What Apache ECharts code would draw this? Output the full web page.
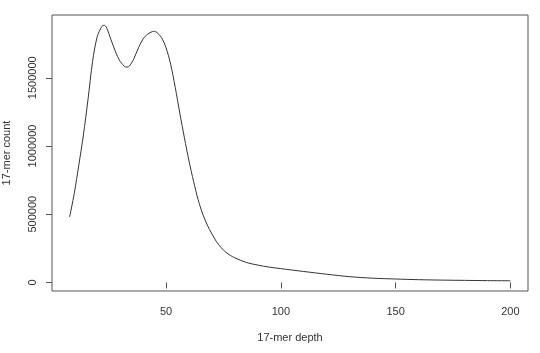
<!DOCTYPE html>
<html>
<head>
<meta charset="utf-8">
<title>17-mer</title>
<script src="https://cdn.jsdelivr.net/npm/echarts@6/dist/echarts.min.js"></script>
<style>
html,body{margin:0;padding:0;background:#fff;}
#main{width:540px;height:353px;}
</style>
</head>
<body>
<div id="main"></div>
<script type="text/javascript">
// depth values
var depth = [8, 10, 12, 14, 16, 18, 20, 22, 23, 24, 26, 28, 30, 32, 33, 34, 36, 38, 40, 42, 44, 45, 46, 48, 50,
	52, 54, 56, 58, 60, 62, 64, 66, 68, 70, 72, 74, 76, 78, 80, 85, 90, 95, 100,
	110, 120, 130, 140, 150, 160, 170, 180, 190, 200];
var count = [480000, 650000, 860000, 1080000, 1340000, 1620000, 1800000, 1875000, 1885000, 1870000, 1780000, 1690000, 1620000, 1582000, 1578000, 1585000, 1640000, 1720000, 1785000, 1820000, 1838000, 1840000, 1832000, 1795000, 1720000,
	1600000, 1430000, 1240000, 1060000, 890000, 740000, 605000, 500000, 420000, 355000, 298000, 255000, 222000, 198000, 180000, 146000, 127000, 112000, 101000,
	80000, 60000, 42000, 31000, 25000, 20000, 17000, 15000, 13000, 12000];
var xTicks = [50, 100, 150, 200];
var yTicks = [0, 500000, 1000000, 1500000];

var pts = [];
for (var i = 0; i < depth.length; i++) {
	pts.push([depth[i], count[i]]);
}

var myChart = echarts.init(document.getElementById("main"));
var txt = {color: '#333', fontFamily: 'Liberation Sans, Arial, sans-serif', fontSize: 11};
var plain = function (v) { return String(v); };
var option = {
	animation: false,
	grid: {left: 52, top: 15, right: 12, bottom: 62, containLabel: false, outerBoundsMode: 'none',
		show: true, borderColor: '#555', borderWidth: 1, backgroundColor: 'transparent'},
	xAxis: {
		type: 'value',
		min: 0.32, max: 207.68,
		name: '17-mer depth', nameLocation: 'middle', nameGap: 41,
		nameTextStyle: txt,
		axisLine: {show: false},
		splitLine: {show: false},
		axisTick: {show: true, inside: false, length: 6, customValues: xTicks, lineStyle: {color: '#555'}},
		axisLabel: Object.assign({customValues: xTicks, margin: 15, formatter: plain}, txt)
	},
	yAxis: {
		type: 'value',
		min: -62920, max: 1959920,
		name: '17-mer count', nameLocation: 'middle', nameGap: 40, nameRotate: 90,
		nameTextStyle: txt,
		axisLine: {show: false},
		splitLine: {show: false},
		axisTick: {show: true, inside: false, length: 6, customValues: yTicks, lineStyle: {color: '#555'}},
		axisLabel: Object.assign({customValues: yTicks, rotate: 90, margin: 14, align: 'center', verticalAlign: 'bottom', formatter: plain}, txt)
	},
	series: [{
		type: 'line',
		data: pts,
		smooth: 0.3,
		showSymbol: false,
		lineStyle: {color: '#333', width: 1}
	}]
};
myChart.setOption(option);
</script>
</body>
</html>
